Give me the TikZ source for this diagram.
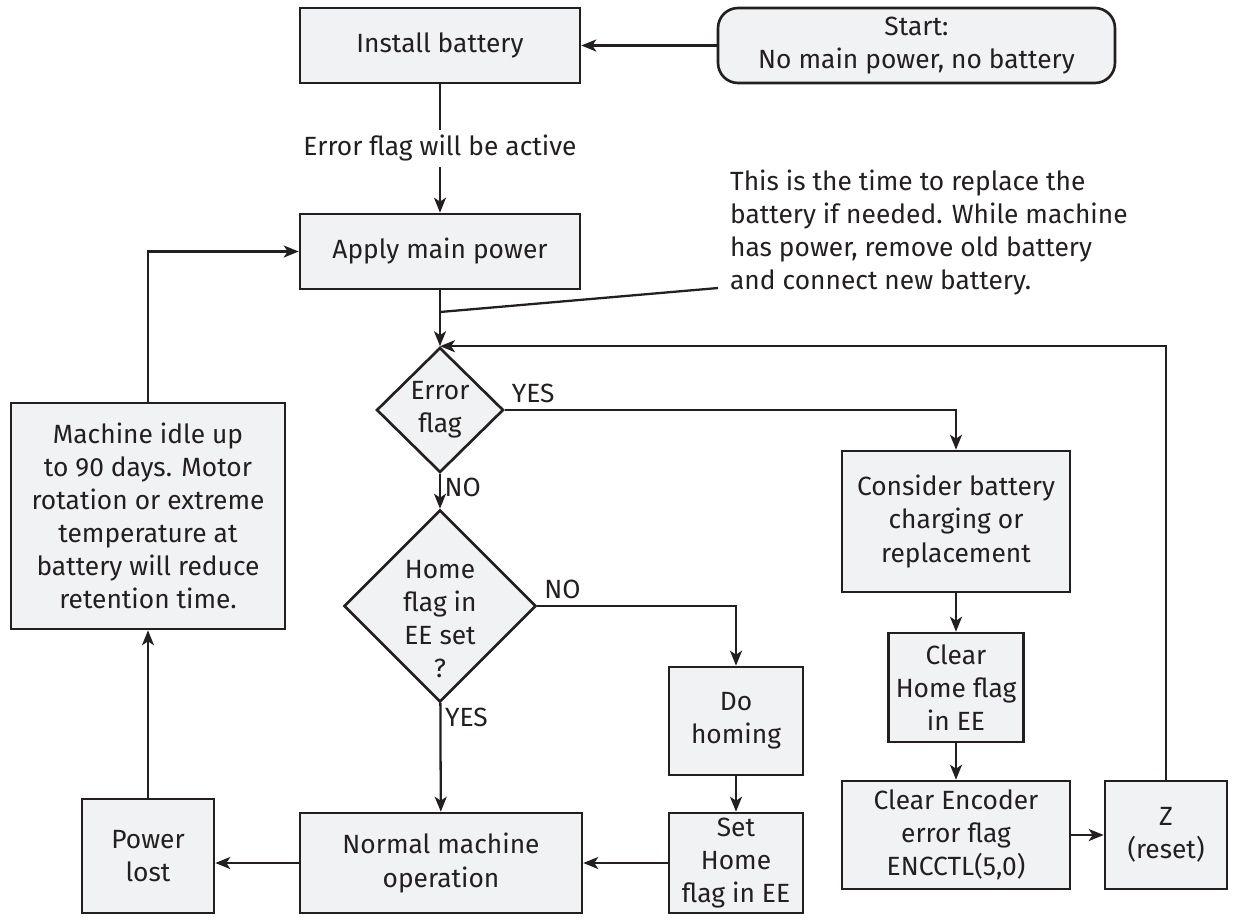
\documentclass[tikz,border=0pt]{standalone}
\usepackage{fontspec}
\setmainfont{Fira Sans}
\usetikzlibrary{shapes.geometric, arrows.meta, positioning}
\definecolor{ink}{HTML}{231F20}
\definecolor{boxgray}{HTML}{F1F2F3}

\begin{document}
\begin{tikzpicture}[x=0.02cm, y=-0.02cm, >={Stealth[length=0.3cm, width=0.24cm, inset=0.08cm]}, color=ink, line width=1.3pt, every node/.style={font=\fontsize{15}{18.8}\selectfont, text=ink}, box/.style={rectangle, draw, fill=boxgray, align=center, inner sep=0pt, line width=1.5pt}, decision/.style={diamond, draw, fill=boxgray, inner sep=0pt, line width=1.5pt}, tag/.style={inner sep=2pt}]
\useasboundingbox (0,0) rectangle (1235,921);
\node[box, minimum width=5.6cm, minimum height=1.5cm] (Install) at (440, 45.5) {Install battery};
\node[box, rounded corners=0.4cm, minimum width=7.94cm, minimum height=1.5cm] (Start) at (916.5, 45.5) {Start:\\No main power, no battery};
\node[box, minimum width=5.6cm, minimum height=1.5cm] (Apply) at (440, 251.5) {Apply main power};
\node[decision, minimum width=2.54cm, minimum height=2.5cm, label={[align=center]center:Error\\flag}] (ErrFlag) at (440, 410) {};
\node[decision, minimum width=3.84cm, minimum height=3.84cm, label={[align=center, yshift=-0.26cm]center:Home\\flag in\\EE set\\?}] (HomeFlag) at (440, 606) {};
\node[box, minimum width=5.48cm, minimum height=4.52cm] (Idle) at (148, 516) {Machine idle up\\to 90 days. Motor\\rotation or extreme\\temperature at\\battery will reduce\\retention time.};
\node[box, minimum width=2.64cm, minimum height=2.28cm] (Lost) at (148, 856) {Power\\lost};
\node[box, minimum width=5.64cm, minimum height=2cm] (Normal) at (441, 863) {Normal machine\\operation};
\node[box, minimum width=2.68cm, minimum height=2.16cm] (Homing) at (736, 721) {Do\\homing};
\node[box, minimum width=2.68cm, minimum height=2cm] (SetHome) at (736, 863) {Set\\Home\\flag in EE};
\node[box, minimum width=4.56cm, minimum height=2.82cm] (Consider) at (956, 521.5) {Consider battery\\charging or\\replacement};
\node[box, minimum width=2.7cm, minimum height=2.18cm] (ClrHome) at (956, 687.5) {Clear\\Home flag\\in EE};
\node[box, minimum width=4.56cm, minimum height=2.16cm] (ClrEnc) at (956, 835) {Clear Encoder\\error flag\\ENCCTL(5,0)};
\node[box, minimum width=2.44cm, minimum height=2.16cm] (Reset) at (1166, 835) {Z\\(reset)};
\node[align=left, anchor=north west, inner sep=0pt] (Note) at (729, 169) {This is the time to replace the\\battery if needed. While machine\\has power, remove old battery\\and connect new battery.};
\coordinate (Tap) at (440, 312); \coordinate (NoteEnd) at (718, 288);
% main line
\draw[->] (Start) -- (Install);
\draw[->] (Install) -- node[fill=white, inner sep=3pt] (FlagNote) {Error flag will be active} (Apply);
\draw[->] (Apply) -- (ErrFlag); \draw (Tap) -- (NoteEnd);
\draw[->] (ErrFlag.east) -| node[pos=0, above right] (YesA) {YES} (Consider.north);
\draw[->] (ErrFlag) -- node[pos=0, below right, tag] (NoA) {NO} (HomeFlag);
\draw[->] (HomeFlag.east) -| node[pos=0, above right] (NoB) {NO} (Homing.north);
\draw[->] (HomeFlag) -- node[pos=0, below right, tag] (YesB) {YES} (Normal);
\draw[->] (Homing) -- (SetHome); \draw[->] (SetHome) -- (Normal);
\draw[->] (Normal) -- (Normal -| Lost.east); \draw[->] (Lost) -- (Idle);
\draw[->] (Idle) |- (Apply);
% error branch
\draw[->] (Consider) -- (ClrHome); \draw[->] (ClrHome) -- (ClrEnc); \draw[->] (ClrEnc) -- (Reset);
\draw[->] (Reset) |- (ErrFlag.north);
\end{tikzpicture}
\end{document}
